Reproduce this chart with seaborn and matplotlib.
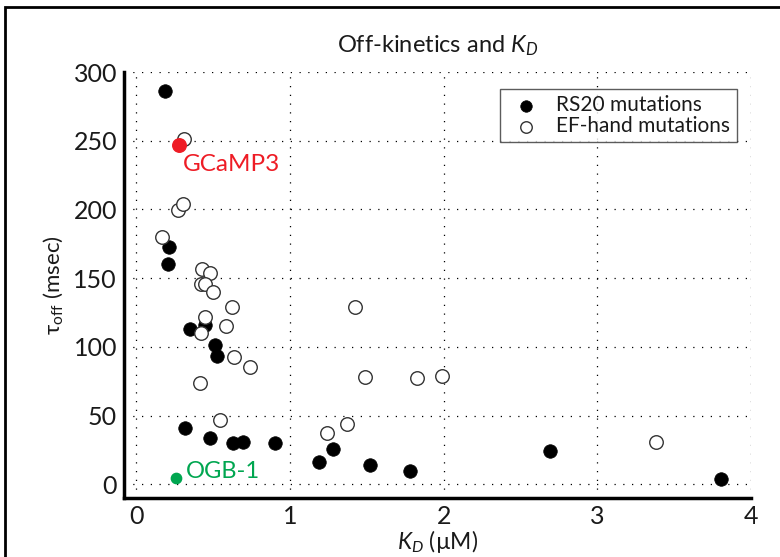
import matplotlib
matplotlib.use("Agg")
import matplotlib.pyplot as plt
import seaborn as sns
import pandas as pd
from matplotlib.patches import Rectangle

# RS20 mutations (filled)
rs20_kd = [0.19, 0.215, 0.206, 0.45, 0.35, 0.515, 0.528, 0.315, 0.478, 0.632,
           0.697, 0.904, 1.283, 1.19, 1.522, 1.778, 2.695, 3.803]
rs20_tau = [286, 173, 160, 116, 113, 101, 93, 41, 34, 30,
            31, 30, 26, 16, 14, 10, 24.5, 3.6]

# EF-hand mutations (open)
ef_kd = [0.31, 0.27, 0.306, 0.165, 0.428, 0.48, 0.423, 0.45, 0.497, 0.623,
         0.45, 0.423, 0.584, 0.638, 0.743, 0.417, 1.422, 1.49, 0.543, 1.24,
         1.37, 1.829, 1.989, 3.381]
ef_tau = [251, 199.5, 203.7, 180, 156.4, 154, 146, 145.4, 139.6, 128.7,
          121.9, 110.2, 115.3, 92.7, 85.2, 73.8, 128.7, 77.7, 46.6, 37.6,
          44.2, 77.2, 78.9, 30.4]

gcamp3 = (0.276, 247)
ogb1 = (0.259, 4.6)

x_ticks = [0, 1, 2, 3, 4]
y_ticks = [0, 50, 100, 150, 200, 250, 300]

df_rs20 = pd.DataFrame({"kd": rs20_kd, "tau": rs20_tau})
df_ef = pd.DataFrame({"kd": ef_kd, "tau": ef_tau})

sns.set_style("white")
plt.rcParams['font.family'] = ['Lato', 'DejaVu Sans']
plt.rcParams['mathtext.fontset'] = 'custom'
plt.rcParams['mathtext.rm'] = 'Lato'
plt.rcParams['mathtext.it'] = 'Lato:italic'
plt.rcParams['mathtext.default'] = 'regular'

txt = "#1a1a1a"

fig = plt.figure(figsize=(7.8, 5.57), dpi=100)
ax = fig.add_axes([124/780, 1-498/557, (751-124)/780, (498-72)/557])

sns.scatterplot(data=df_rs20, x="kd", y="tau", ax=ax, s=95, color="black",
                edgecolor="black", linewidth=0.5, label="RS20 mutations", zorder=3)
sns.scatterplot(data=df_ef, x="kd", y="tau", ax=ax, s=95, facecolor="white",
                edgecolor="#333333", linewidth=1.0, label="EF-hand mutations", zorder=3)
ax.scatter([gcamp3[0]], [gcamp3[1]], s=95, color="#ee1c25", zorder=4)
ax.scatter([ogb1[0]], [ogb1[1]], s=55, color="#00a650", zorder=4)
ax.text(0.30, 233, "GCaMP3", color="#ee1c25", fontsize=17.5, va="center", ha="left")
ax.text(0.32, 9, "OGB-1", color="#00a650", fontsize=17, va="center", ha="left")

ax.set_xlim(-0.08, 4)
ax.set_ylim(-10, 300)
ax.set_xticks(x_ticks)
ax.set_yticks(y_ticks)
ax.grid(True, color="black", linestyle=(0, (1, 6)), linewidth=0.9)
for s in ["top", "right"]:
    ax.spines[s].set_visible(False)
for s in ["left", "bottom"]:
    ax.spines[s].set_linewidth(2.5)
    ax.spines[s].set_color("black")
ax.tick_params(direction="in", length=6, width=2, labelsize=18, colors="black",
               labelcolor=txt, pad=5)
ax.tick_params(axis="x", length=3, width=1)

ax.set_title("Off-kinetics and $\\mathit{K_D}$", fontsize=17, color=txt, pad=14)
ax.set_xlabel("$\\mathit{K_D}$ (µM)", fontsize=16.5, color=txt, labelpad=0)
ax.set_ylabel("τ$_{off}$ (msec)", fontsize=16, color=txt, labelpad=6)

leg = ax.legend(loc="upper right", bbox_to_anchor=(0.987, 0.975), fontsize=15,
                frameon=True, fancybox=False, markerscale=0.85, handletextpad=0.5,
                borderpad=0.3, labelspacing=0.05, handlelength=1.9, borderaxespad=0.3)
leg.get_frame().set_edgecolor("#333333")
leg.get_frame().set_linewidth(1.0)
for t in leg.get_texts():
    t.set_color(txt)

# outer frame of the panel (left and top edges)
fig.patches.append(Rectangle((5/780, -0.5), 2.0, 1.5 - 7/557, transform=fig.transFigure,
                             fill=False, edgecolor="black", linewidth=2.0))

plt.savefig("out.png", dpi=100)
